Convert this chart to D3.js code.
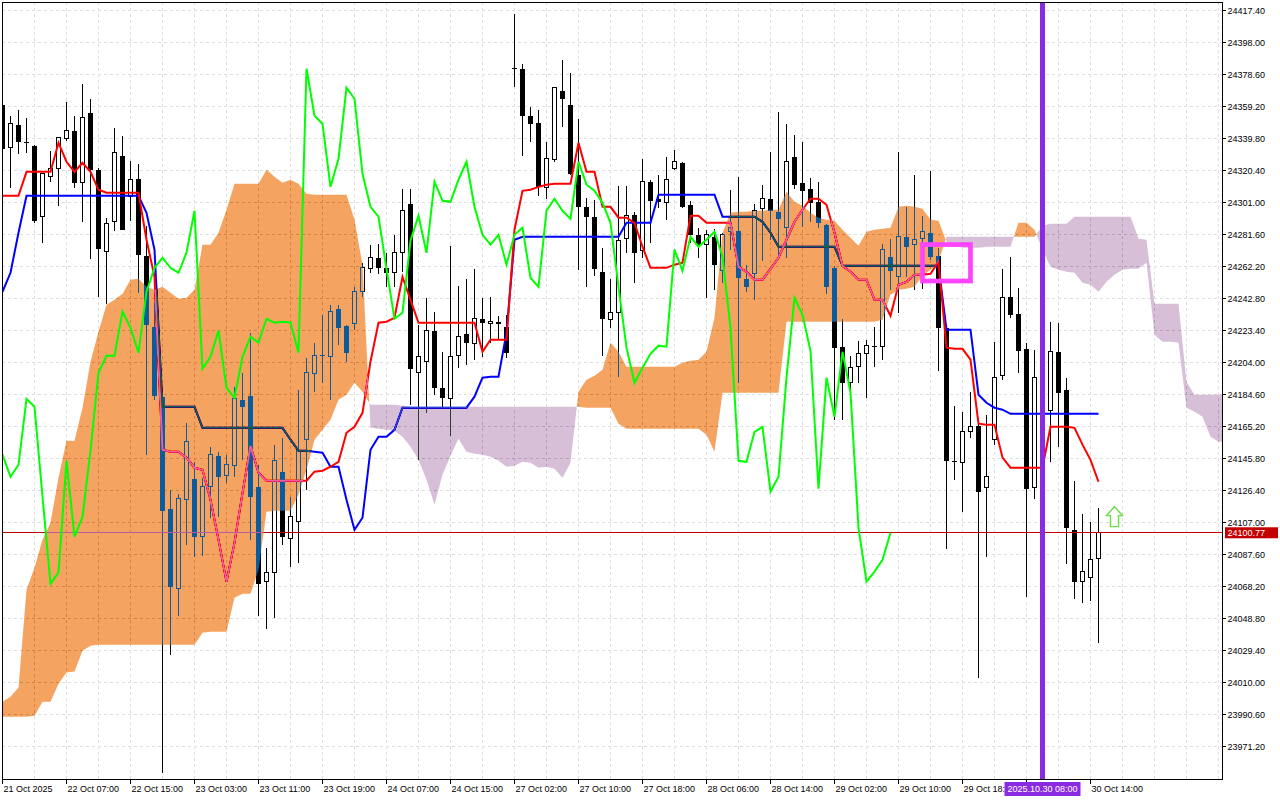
<!DOCTYPE html>
<html><head><meta charset="utf-8">
<script src="https://cdn.jsdelivr.net/npm/d3@7"></script>
<style>
html,body{margin:0;padding:0;background:#fff;}
svg{display:block;}
text{font-family:"Liberation Sans",Arial,sans-serif;font-size:9px;}
</style></head><body>
<svg id="c" width="1280" height="800"></svg>
<script>
const open=[24360.3,24334.2,24348.1,24337.8,24335.4,24292.4,24316.6,24321.4,24339.7,24344.5,24313.0,24355.4,24320.8,24271.2,24289.3,24329.4,24304.5,24315.3,24268.7,24225.7,24183.3,24115.3,24066.9,24120.8,24133.5,24098.4,24128.7,24147.5,24135.3,24141.4,24181.4,24183.9,24128.7,24071.1,24076.6,24137.8,24097.2,24107.5,24157.2,24197.2,24208.7,24207.5,24236.6,24226.3,24227.5,24246.9,24260.8,24267.5,24261.4,24258.4,24270.6,24300.2,24197.8,24204.5,24223.3,24188.7,24182.0,24208.1,24221.4,24215.4,24230.5,24227.5,24228.1,24225.7,24382.7,24382.1,24353.6,24349.3,24309.9,24326.9,24368.7,24360.3,24317.8,24298.4,24292.4,24259.0,24229.9,24234.2,24279.0,24293.6,24271.7,24313.6,24303.3,24300.8,24321.4,24325.1,24299.6,24281.4,24275.4,24280.2,24259.6,24283.3,24283.9,24254.8,24257.8,24297.2,24303.3,24295.4,24285.7,24328.7,24313.0,24309.3,24301.4,24287.5,24261.4,24213.6,24191.7,24201.4,24209.3,24214.2,24213.6,24268.1,24256.0,24280.2,24275.4,24279.0,24282.7,24268.7,24225.1,24144.4,24143.2,24162.0,24165.6,24128.1,24157.2,24196.0,24243.9,24233.5,24212.3,24128.1,24193.5,24174.8,24210.5,24187.5,24102.6,24071.1,24073.5,24085.0];
const high=[24363.3,24353.6,24357.2,24352.4,24336.0,24318.4,24332.4,24340.9,24362.1,24353.6,24373.0,24363.9,24322.0,24291.8,24346.3,24341.5,24326.3,24324.5,24286.9,24240.8,24185.7,24126.9,24124.5,24167.5,24143.8,24134.1,24153.0,24149.9,24148.1,24189.3,24197.8,24222.1,24142.0,24091.7,24154.2,24158.4,24122.6,24187.5,24206.9,24216.0,24232.9,24239.0,24239.0,24226.9,24249.9,24264.5,24275.4,24276.0,24270.6,24281.4,24309.3,24309.3,24226.9,24243.3,24234.8,24210.5,24274.8,24250.5,24254.8,24260.8,24243.3,24243.9,24232.3,24233.0,24415.4,24385.1,24359.0,24357.2,24337.8,24371.2,24387.5,24379.6,24351.8,24303.9,24302.7,24273.6,24254.8,24311.2,24311.2,24295.4,24327.5,24314.8,24317.8,24328.7,24333.0,24325.7,24302.0,24285.7,24284.5,24285.1,24282.7,24308.7,24316.6,24263.3,24300.2,24311.8,24331.8,24356.0,24348.7,24342.1,24337.8,24316.0,24313.6,24288.1,24262.6,24230.5,24208.1,24217.2,24217.8,24225.7,24276.0,24279.0,24331.8,24298.4,24317.8,24293.0,24320.2,24273.6,24226.9,24177.8,24174.2,24186.3,24170.5,24172.3,24216.6,24260.8,24268.1,24249.3,24216.0,24211.7,24199.6,24228.7,24228.1,24194.8,24132.3,24112.3,24107.5,24115.9];
const low=[24331.8,24310.0,24330.6,24331.2,24288.7,24276.6,24313.6,24299.1,24338.5,24310.0,24289.3,24266.9,24243.9,24239.6,24283.9,24285.1,24289.9,24246.3,24148.1,24181.4,23955.4,24026.9,24050.5,24093.6,24086.3,24086.8,24109.9,24110.5,24131.1,24134.7,24145.0,24096.6,24050.5,24042.6,24049.3,24093.6,24080.2,24082.6,24126.9,24186.3,24191.7,24181.4,24214.8,24204.5,24223.9,24243.9,24258.4,24257.8,24249.9,24249.9,24259.0,24178.4,24145.0,24173.5,24184.5,24176.6,24159.6,24200.8,24202.6,24205.7,24207.5,24216.0,24217.8,24206.9,24371.2,24329.4,24337.8,24305.1,24303.3,24325.7,24346.9,24317.8,24260.2,24249.9,24256.6,24208.1,24225.1,24195.4,24270.5,24252.3,24267.5,24276.6,24297.8,24290.5,24320.8,24297.8,24276.6,24267.5,24243.3,24248.1,24252.3,24272.4,24191.7,24246.9,24242.0,24265.7,24278.4,24268.7,24267.5,24309.3,24286.3,24289.3,24285.7,24245.7,24169.3,24169.3,24184.5,24191.7,24182.6,24201.4,24205.7,24248.1,24234.2,24256.0,24248.1,24248.7,24266.3,24199.0,24091.1,24132.9,24113.5,24158.4,24012.9,24086.3,24154.2,24193.5,24231.1,24197.8,24062.0,24121.4,24163.2,24143.8,24152.9,24082.0,24060.8,24058.4,24059.6,24034.1];
const close=[24333.5,24348.7,24337.8,24337.2,24289.9,24318.4,24321.4,24340.3,24344.5,24313.0,24352.4,24320.8,24273.0,24288.1,24331.2,24284.5,24314.8,24269.4,24226.9,24183.9,24114.1,24068.1,24121.4,24156.0,24098.4,24128.7,24148.1,24134.7,24142.0,24182.0,24177.2,24122.6,24069.9,24076.6,24144.4,24098.4,24110.5,24150.5,24197.8,24208.1,24208.1,24234.8,24225.1,24209.9,24246.9,24261.4,24267.5,24261.4,24258.4,24270.6,24296.0,24200.2,24207.5,24223.3,24188.7,24182.6,24207.5,24219.6,24216.0,24230.5,24228.1,24228.7,24228.3,24209.9,24382.1,24353.6,24348.7,24310.5,24327.5,24370.6,24363.9,24318.4,24298.4,24292.4,24260.8,24230.5,24234.2,24277.8,24293.0,24270.5,24313.6,24302.0,24301.4,24314.8,24325.7,24298.4,24281.4,24275.4,24281.4,24263.3,24281.4,24285.7,24255.4,24249.9,24296.0,24303.3,24296.0,24291.1,24325.7,24311.8,24308.1,24300.8,24288.7,24249.9,24213.0,24191.7,24200.8,24209.3,24214.2,24213.6,24272.4,24259.6,24280.2,24274.2,24278.4,24283.3,24268.1,24225.1,24144.4,24143.8,24162.0,24165.0,24125.7,24134.7,24194.8,24243.3,24232.9,24211.1,24127.5,24194.8,24171.1,24210.5,24185.7,24103.8,24071.1,24077.2,24084.4,24100.77];
const tenkan=[24305.1,24305.1,24305.1,24319.6,24319.6,24319.6,24319.6,24337.2,24325.7,24319.6,24325.1,24319.6,24308.7,24306.9,24306.9,24306.9,24306.9,24306.9,24278.4,24256.0,24151.1,24149.9,24149.9,24146.3,24140.2,24139.0,24120.8,24096.6,24071.1,24094.8,24125.0,24153.5,24137.2,24132.3,24132.3,24132.3,24132.3,24132.3,24132.3,24137.8,24138.4,24140.8,24143.8,24161.4,24165.0,24173.5,24204.5,24228.1,24228.7,24231.1,24256.0,24242.0,24228.1,24228.1,24228.1,24228.1,24228.1,24228.1,24228.1,24228.1,24210.5,24217.8,24217.8,24217.8,24284.5,24308.1,24308.7,24310.5,24311.8,24312.4,24312.4,24312.4,24337.2,24319.6,24319.6,24298.4,24298.4,24291.8,24291.8,24288.7,24274.2,24261.4,24261.4,24261.4,24263.3,24264.5,24293.0,24293.0,24288.7,24288.7,24288.7,24288.7,24262.0,24259.0,24254.2,24254.2,24260.8,24267.5,24278.4,24289.3,24296.6,24303.3,24303.3,24299.6,24282.7,24262.6,24259.0,24254.2,24254.2,24242.0,24242.0,24232.3,24251.1,24252.9,24257.2,24257.2,24257.8,24265.1,24213.0,24212.3,24212.3,24205.7,24166.9,24166.3,24166.3,24146.3,24140.2,24140.2,24140.2,24140.2,24140.2,24165.0,24165.0,24165.0,24164.4,24154.2,24145.0,24131.7];
const kijun=[24246.9,24258.4,24282.7,24305.1,24305.1,24305.1,24305.1,24305.1,24305.1,24305.1,24305.1,24305.1,24305.1,24305.1,24305.1,24305.1,24305.1,24305.1,24294.8,24272.4,24177.2,24177.2,24177.2,24177.2,24177.2,24164.4,24164.4,24164.4,24164.4,24164.4,24164.4,24164.4,24164.4,24164.4,24164.4,24164.4,24157.2,24150.5,24150.5,24149.9,24149.3,24140.8,24140.8,24120.8,24102.6,24109.9,24151.1,24159.0,24159.0,24163.2,24176.6,24176.6,24176.6,24176.6,24176.6,24176.6,24176.6,24176.6,24176.6,24183.3,24194.8,24195.4,24195.4,24222.1,24278.4,24280.2,24280.2,24280.2,24280.2,24280.2,24280.2,24280.2,24280.2,24280.2,24280.2,24280.2,24280.2,24280.2,24288.7,24288.7,24288.7,24288.7,24305.7,24305.7,24305.7,24305.7,24305.7,24305.7,24305.7,24305.7,24292.4,24292.4,24292.4,24292.4,24292.4,24289.3,24282.7,24274.2,24274.2,24274.2,24274.2,24274.2,24274.2,24274.2,24274.2,24262.6,24262.6,24262.6,24262.6,24262.6,24262.6,24262.6,24262.6,24262.6,24262.6,24262.6,24262.6,24262.6,24223.9,24223.9,24223.9,24223.9,24184.5,24179.6,24176.6,24175.4,24172.9,24172.9,24172.9,24172.9,24172.9,24172.9,24172.9,24172.9,24172.9,24172.9,24172.9,24172.9];
const spanA=[23998.4,24001.4,24006.9,24066.3,24079.6,24096.6,24106.9,24134.1,24156.6,24156.6,24176.6,24204.5,24222.7,24239.0,24242.0,24245.7,24254.2,24254.8,24249.9,24248.1,24249.9,24246.3,24242.6,24243.3,24248.1,24275.4,24275.4,24282.7,24296.6,24312.4,24312.4,24312.4,24312.4,24320.8,24316.6,24313.0,24314.8,24312.4,24306.3,24305.7,24305.7,24305.7,24305.7,24305.7,24290.5,24263.3,24164.4,24163.8,24163.2,24162.6,24159.0,24152.9,24145.0,24132.9,24117.8,24136.0,24147.5,24157.8,24149.9,24148.7,24148.1,24146.9,24144.4,24140.8,24141.4,24143.8,24143.2,24140.2,24140.8,24139.6,24134.1,24143.2,24186.3,24193.5,24195.9,24199.6,24216.0,24210.5,24201.4,24201.4,24201.4,24201.4,24201.4,24201.4,24201.4,24203.9,24205.1,24205.7,24210.5,24231.1,24282.7,24294.8,24295.4,24295.4,24296.0,24296.0,24296.6,24296.6,24307.5,24301.4,24299.0,24294.8,24291.8,24290.5,24289.9,24284.5,24279.6,24274.8,24283.3,24284.5,24285.1,24285.7,24298.4,24299.0,24298.4,24297.2,24290.5,24289.9,24277.2,24274.8,24273.6,24273.6,24273.6,24274.2,24274.2,24274.2,24274.2,24288.7,24288.7,24284.5,24272.4,24262.0,24260.2,24259.0,24258.4,24252.3,24251.1,24246.9,24252.9,24257.2,24260.2,24260.8,24260.8,24264.5,24220.8,24216.6,24216.6,24216.0,24176.6,24174.2,24171.1,24159.0,24156.0,24156.0];
const spanB=[23989.3,23989.3,23989.3,23989.3,23989.9,23998.4,23998.4,24009.3,24016.0,24016.6,24029.3,24032.3,24032.9,24032.9,24032.9,24032.9,24032.9,24032.9,24032.9,24032.9,24032.9,24032.9,24032.9,24032.9,24032.9,24040.2,24040.8,24040.8,24040.8,24061.4,24063.8,24063.8,24078.4,24113.5,24114.1,24114.1,24114.1,24123.8,24139.0,24157.2,24163.2,24169.3,24181.4,24184.5,24191.7,24186.3,24178.4,24178.4,24178.4,24178.4,24177.8,24177.2,24177.2,24177.2,24177.2,24177.2,24177.2,24177.2,24177.2,24177.2,24177.2,24177.2,24177.2,24177.2,24177.2,24177.2,24177.2,24177.2,24177.2,24177.2,24177.2,24177.2,24177.2,24176.6,24176.6,24176.6,24176.6,24166.9,24163.8,24163.8,24163.8,24163.8,24163.8,24163.8,24163.8,24163.8,24163.8,24163.8,24160.2,24149.9,24185.7,24185.7,24185.7,24185.7,24185.7,24185.7,24185.7,24185.7,24228.7,24228.7,24228.7,24228.7,24228.7,24228.7,24228.7,24228.7,24228.7,24228.7,24228.7,24228.7,24229.9,24245.1,24248.1,24248.7,24249.9,24256.6,24260.2,24265.1,24280.2,24280.2,24280.2,24280.2,24280.2,24280.2,24280.2,24280.2,24280.2,24280.2,24280.2,24280.2,24286.9,24288.1,24288.1,24288.1,24292.4,24292.4,24292.4,24292.4,24292.4,24292.4,24292.4,24292.4,24279.0,24278.4,24239.6,24239.6,24239.6,24239.6,24192.3,24184.5,24184.5,24184.5,24184.5,24184.5];
const priceTicks=[24417.40,24398.00,24378.60,24359.20,24339.80,24320.40,24301.00,24281.60,24262.20,24242.80,24223.40,24204.00,24184.60,24165.20,24145.80,24126.40,24107.00,24087.60,24068.20,24048.80,24029.40,24010.00,23990.60,23971.20];
const timeLabels=["21 Oct 2025","22 Oct 07:00","22 Oct 15:00","23 Oct 03:00","23 Oct 11:00","23 Oct 19:00","24 Oct 07:00","24 Oct 15:00","27 Oct 02:00","27 Oct 10:00","27 Oct 18:00","28 Oct 06:00","28 Oct 14:00","29 Oct 02:00","29 Oct 10:00","29 Oct 18:00","","30 Oct 14:00"];
const barsPerLabel=8;
const lastPrice=24100.77;
const markerBar=130, markerText="2025.10.30 08:00";
const boxBars=[115,121], boxPrices=[24275.5,24253.4];
const arrowBar=139, arrowPrice=24116.6;

const W=1280,H=800,L=2,T=2,R=1222,B=779;
const svg=d3.select('#c');
const x=d3.scaleLinear().domain([0,1]).range([2.5,10.5]);
const y=d3.scaleLinear().domain([24417.4,23971.2]).range([10.5,746.5]);

svg.append('rect').attr('width',W).attr('height',H).attr('fill','#fff');
const defs=svg.append('defs');
defs.append('clipPath').attr('id','plot').append('rect')
  .attr('x',L).attr('y',T).attr('width',R-L).attr('height',B-T);
defs.append('clipPath').attr('id','lblclip').append('rect')
  .attr('x',0).attr('y',B).attr('width',x(markerBar)-38).attr('height',H-B);
const g=svg.append('g').attr('clip-path','url(#plot)');
g.append('rect').attr('x',0).attr('y',0).attr('width',W).attr('height',H).attr('fill','#fff');

// grid
const grid=g.append('g').attr('stroke','#dedede').attr('stroke-dasharray','3,3').attr('shape-rendering','crispEdges');
grid.selectAll('line.h').data(priceTicks).join('line').attr('class','h')
  .attr('x1',L).attr('x2',R).attr('y1',d=>y(d)).attr('y2',d=>y(d));
grid.selectAll('line.v').data(d3.range(4,spanA.length,4)).join('line').attr('class','v')
  .attr('x1',d=>x(d)).attr('x2',d=>x(d)).attr('y1',T).attr('y2',B);

// candles
const idx=d3.range(close.length);
const cg=g.append('g').attr('shape-rendering','crispEdges');
cg.selectAll('line.w').data(idx).join('line').attr('class','w')
  .attr('x1',i=>x(i)).attr('x2',i=>x(i)).attr('y1',i=>y(high[i])).attr('y2',i=>y(low[i])).attr('stroke','#000');
cg.selectAll('rect.b').data(idx).join('rect').attr('class','b')
  .attr('x',i=>close[i]>=open[i]?x(i)-2:x(i)-2.5)
  .attr('width',i=>close[i]>=open[i]?4:5)
  .attr('y',i=>y(Math.max(open[i],close[i])))
  .attr('height',i=>Math.max(1,Math.abs(y(open[i])-y(close[i]))))
  .attr('fill',i=>close[i]>=open[i]?'#fff':'#000')
  .attr('stroke',i=>close[i]>=open[i]?'#000':'none');

// tenkan / kijun
const line=d3.line().x((d,i)=>x(i)).y(d=>y(d));
g.append('path').datum(kijun).attr('d',line).attr('fill','none').attr('stroke','#0000ff').attr('stroke-width',2);
g.append('path').datum(tenkan).attr('d',line).attr('fill','none').attr('stroke','#ff0000').attr('stroke-width',2);

// last price line
g.append('line').attr('x1',L).attr('x2',R).attr('y1',y(lastPrice)).attr('y2',y(lastPrice))
  .attr('stroke','#c40000').attr('shape-rendering','crispEdges');

// kumo (difference blend reproduces the terminal's XOR-style drawing)
const pOr=d3.path(), pLi=d3.path();
function poly(p,pts){p.moveTo(pts[0][0],pts[0][1]);for(let k=1;k<pts.length;k++)p.lineTo(pts[k][0],pts[k][1]);p.closePath();}
for(let k=0;k<spanA.length-1;k++){
  const x0=x(k),x1=x(k+1),a0=spanA[k],b0=spanB[k],a1=spanA[k+1],b1=spanB[k+1];
  const d0=a0-b0,d1=a1-b1;
  if((d0>=0&&d1>=0)||(d0<=0&&d1<=0)){
    poly((d0+d1)>=0?pOr:pLi,[[x0,y(a0)],[x1,y(a1)],[x1,y(b1)],[x0,y(b0)]]);
  } else {
    const t=d0/(d0-d1), xc=x0+t*(x1-x0), yc=y(a0+t*(a1-a0));
    poly(d0>0?pOr:pLi,[[x0,y(a0)],[xc,yc],[x0,y(b0)]]);
    poly(d1>0?pOr:pLi,[[xc,yc],[x1,y(a1)],[x1,y(b1)]]);
  }
}
g.append('path').attr('d',pOr.toString()).attr('fill','rgb(11,91,159)').style('mix-blend-mode','difference');
g.append('path').attr('d',pLi.toString()).attr('fill','rgb(39,64,39)').style('mix-blend-mode','difference');

// chikou span (close shifted back 26 bars)
const chikou=close.slice(26);
g.append('path').datum(chikou).attr('d',line).attr('fill','none').attr('stroke','#00ff00').attr('stroke-width',2);

// vertical marker
g.append('line').attr('x1',x(markerBar)).attr('x2',x(markerBar)).attr('y1',T).attr('y2',B)
  .attr('stroke','#8a2be2').attr('stroke-width',5);

// magenta box
g.append('rect').attr('x',x(boxBars[0])).attr('y',y(boxPrices[0]))
  .attr('width',x(boxBars[1])-x(boxBars[0])).attr('height',y(boxPrices[1])-y(boxPrices[0]))
  .attr('fill','none').attr('stroke','#ff44ff').attr('stroke-width',4.7);

// up arrow
const ax=x(arrowBar), ay=y(arrowPrice);
const arrowPts=[[0,0],[8,9],[4,9],[4,20],[-4,20],[-4,9],[-8,9]];
g.append('path').attr('d','M'+arrowPts.map(p=>[ax+p[0],ay+p[1]].join(',')).join('L')+'Z')
  .attr('fill','#fff').attr('stroke','#6fdc4a').attr('stroke-width',1.4);

// frame
svg.append('rect').attr('x',L+0.5).attr('y',T+0.5).attr('width',R-L).attr('height',B-T)
  .attr('fill','none').attr('stroke','#000').attr('shape-rendering','crispEdges');

// y axis
const ya=svg.append('g');
ya.selectAll('line').data(priceTicks).join('line')
  .attr('x1',R).attr('x2',R+4).attr('y1',d=>y(d)).attr('y2',d=>y(d)).attr('stroke','#000').attr('shape-rendering','crispEdges');
ya.selectAll('text').data(priceTicks).join('text')
  .attr('x',R+5.5).attr('y',d=>y(d)+3.5).attr('fill','#000').text(d=>d3.format('.2f')(d));

// x axis
const xa=svg.append('g');
const tIdx=timeLabels.map((t,k)=>k*barsPerLabel);
xa.selectAll('line').data(tIdx).join('line')
  .attr('x1',d=>x(d)).attr('x2',d=>x(d)).attr('y1',B).attr('y2',B+5).attr('stroke','#000').attr('shape-rendering','crispEdges');
xa.selectAll('text').data(timeLabels).join('text')
  .attr('x',(d,k)=>x(tIdx[k])+1).attr('y',792).attr('fill','#000')
  .attr('clip-path',(d,k)=>tIdx[k]<markerBar&&tIdx[k]>markerBar-16?'url(#lblclip)':null)
  .text(d=>d);

// last price label
const ly=y(lastPrice);
svg.append('rect').attr('x',R+3).attr('y',ly-5.5).attr('width',53).attr('height',11).attr('fill','#c40000');
svg.append('text').attr('x',R+5.5).attr('y',ly+3.5).attr('fill','#fff').text(d3.format('.2f')(lastPrice));

// marker time label
const mx=x(markerBar);
svg.append('rect').attr('x',mx-38).attr('y',782).attr('width',76).attr('height',14).attr('fill','#8a2be2');
svg.append('text').attr('x',mx).attr('y',792).attr('text-anchor','middle').attr('fill','#fff').text(markerText);
</script>
</body></html>
